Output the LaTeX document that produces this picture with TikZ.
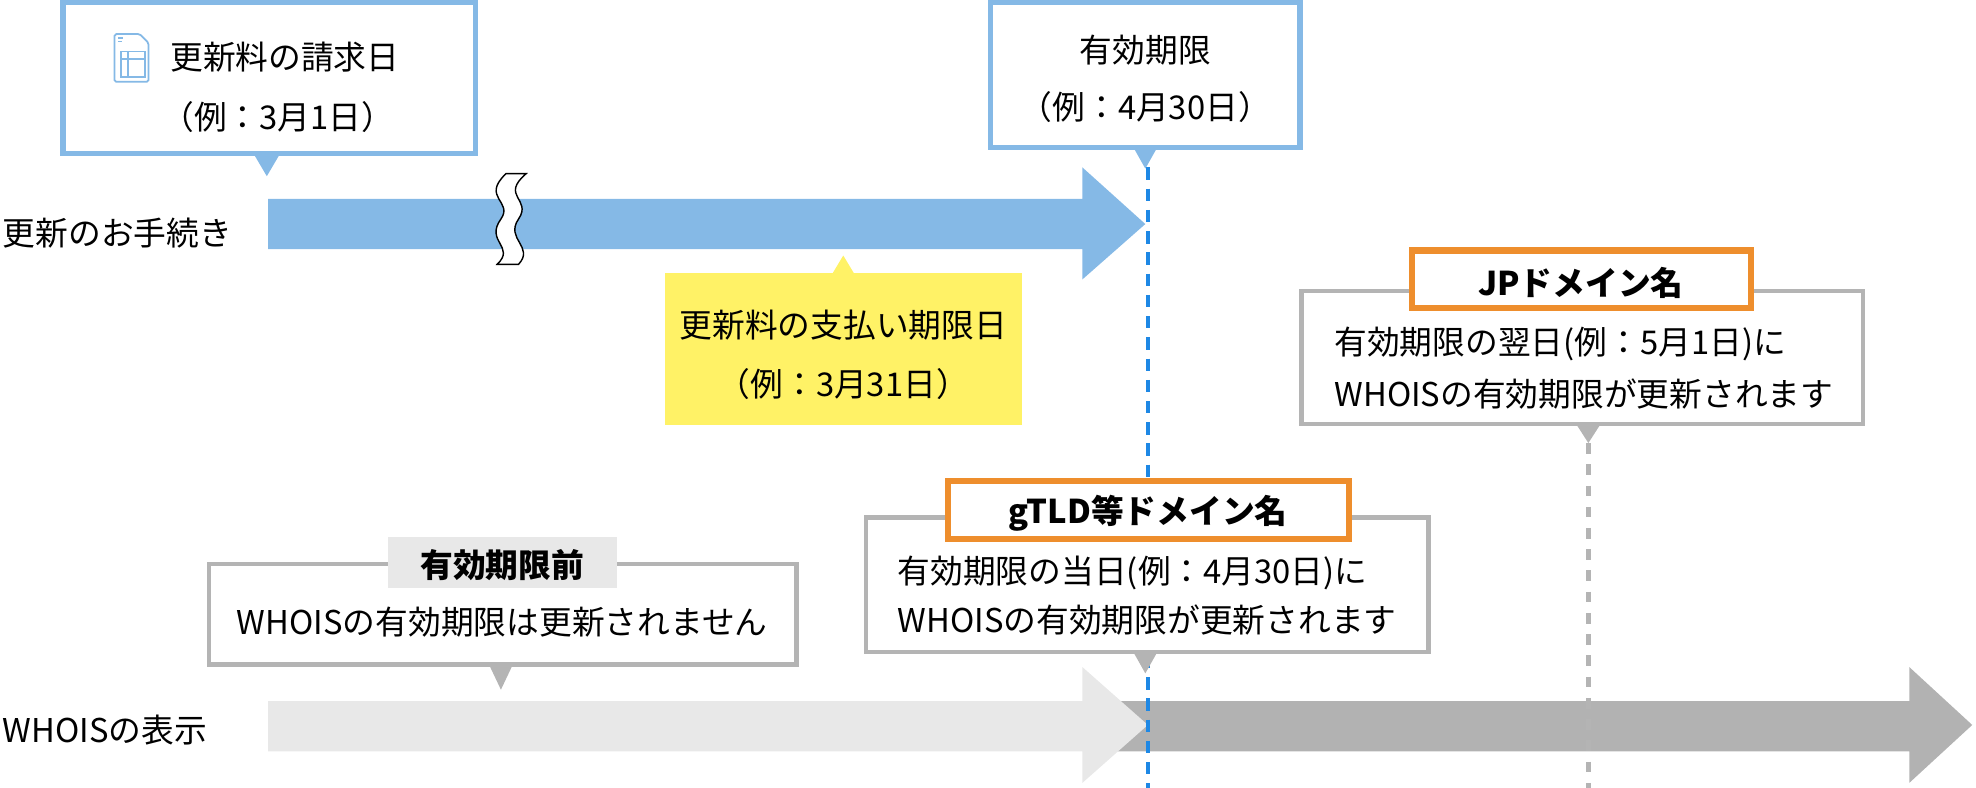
\documentclass[tikz,border=0pt]{standalone}
\usepackage{fontspec}
\setmainfont{Noto Sans CJK JP}
\usepackage{tikz}
\definecolor{boxblue}{HTML}{85B9E6}
\definecolor{lineblue}{HTML}{1E88E5}
\definecolor{boxgray}{HTML}{B4B4B4}
\definecolor{lightarrow}{HTML}{E8E8E8}
\definecolor{darkarrow}{HTML}{B2B2B2}
\definecolor{tagorange}{HTML}{EE8E2D}
\definecolor{noteyellow}{HTML}{FFF266}
\tikzset{
  txt/.style={font=\fontsize{18.5}{22}\selectfont, inner sep=0pt},
  tag/.style={txt, font=\fontsize{18.5}{22}\selectfont\bfseries},
}
\begin{document}
\begin{tikzpicture}[x=0.025cm, y=-0.025cm]
    \useasboundingbox (0,0) rectangle (1570,626);

    % Dashed guide lines
    \coordinate (LineTop) at (912,133);
    \coordinate (LineBot) at (912,626);
    \coordinate (JPTop) at (1262,352);
    \coordinate (JPBot) at (1262,626);

    % WHOIS arrows
    \fill[darkarrow] (870,557) -- (1517,557) -- (1517,530) -- (1567,576) -- (1517,622) -- (1517,597) -- (870,597) -- cycle;
    \fill[lightarrow] (213,557) -- (860,557) -- (860,530) -- (912,576) -- (860,622) -- (860,597) -- (213,597) -- cycle;
    \draw[boxgray, line width=2.5pt, dash pattern=on 6pt off 6pt] (JPTop) -- (JPBot);

    % Renewal arrow
    \fill[boxblue] (213,158) -- (860,158) -- (860,133) -- (910,178) -- (860,222) -- (860,198) -- (213,198) -- cycle;
    \filldraw[fill=white, draw=black, thick] (402,138) .. controls (382,157) and (408,160) .. (398,174) .. controls (385,192) and (410,196) .. (395,210)
        -- (412,210) .. controls (425,196) and (401,190) .. (412,174) .. controls (423,158) and (397,156) .. (418,138) -- cycle;
    \draw[lineblue, line width=2.5pt, dash pattern=on 7pt off 5pt] (LineTop) -- (LineBot);

    % Row labels
    \node[txt, anchor=west] (renewal) at (2,185) {更新のお手続き};
    \node[txt, anchor=west] (whois) at (2,580) {WHOISの表示};

    % Billing date box
    \filldraw[fill=white, draw=boxblue, line width=3pt] (50,2) rectangle (378,122);
    \fill[boxblue] (202,123) -- (222,123) -- (212,140) -- cycle;
    \draw[boxblue, line width=1pt, rounded corners=1pt] (91,27) -- (111,27) -- (118,34) -- (118,65) -- (91,65) -- cycle;
    \draw[boxblue, line width=1pt] (94,30) -- (98,30) (94,33) -- (97,33) (96,41) -- (115,41) (96,47) -- (115,47) (102,41) -- (102,61) (96,41) rectangle (115,61);
    \node[txt, anchor=west] (billing) at (135,45) {更新料の請求日};
    \node[txt, anchor=west] (billingex) at (128,93) {（例：3月1日）};

    % Expiry box
    \filldraw[fill=white, draw=boxblue, line width=3pt] (787,2) rectangle (1033,117);
    \fill[boxblue] (901,118) -- (919,118) -- (910,134) -- cycle;
    \node[txt] (expiry) at (910,40) {有効期限};
    \node[txt] (expiryex) at (910,85) {（例：4月30日）};

    % Payment deadline note
    \fill[noteyellow] (528,217) rectangle (812,338);
    \fill[noteyellow] (661,218) -- (679,218) -- (670,203) -- cycle;
    \node[txt] (payment) at (670,258) {更新料の支払い期限日};
    \node[txt] (paymentex) at (670,305) {（例：3月31日）};

    % JP domain box
    \filldraw[fill=white, draw=boxgray, line width=2.5pt] (1034,231) rectangle (1480,337);
    \fill[boxgray] (1253,338) -- (1271,338) -- (1262,352) -- cycle;
    \filldraw[fill=white, draw=tagorange, line width=3.5pt] (1122,199) rectangle (1391,245);
    \node[tag] (jp) at (1256,225) {JPドメイン名};
    \node[txt, anchor=west] (jpa) at (1060,273) {有効期限の翌日(例：5月1日)に};
    \node[txt, anchor=west] (jpb) at (1060,313) {WHOISの有効期限が更新されます};

    % gTLD box
    \filldraw[fill=white, draw=boxgray, line width=2.5pt] (688,411) rectangle (1135,518);
    \fill[boxgray] (901,519) -- (919,519) -- (910,535) -- cycle;
    \filldraw[fill=white, draw=tagorange, line width=3.5pt] (753,382) rectangle (1072,428);
    \node[tag] (gtld) at (912,408) {gTLD等ドメイン名};
    \node[txt, anchor=west] (gtlda) at (713,455) {有効期限の当日(例：4月30日)に};
    \node[txt, anchor=west] (gtldb) at (713,493) {WHOISの有効期限が更新されます};

    % Before expiry box
    \filldraw[fill=white, draw=boxgray, line width=2.5pt] (166,448) rectangle (633,528);
    \fill[boxgray] (389,529) -- (407,529) -- (398,548) -- cycle;
    \fill[lightarrow] (308,427) rectangle (490,467);
    \node[tag] (before) at (399,449) {有効期限前};
    \node[txt] (beforetxt) at (399,494) {WHOISの有効期限は更新されません};
\end{tikzpicture}
\end{document}
